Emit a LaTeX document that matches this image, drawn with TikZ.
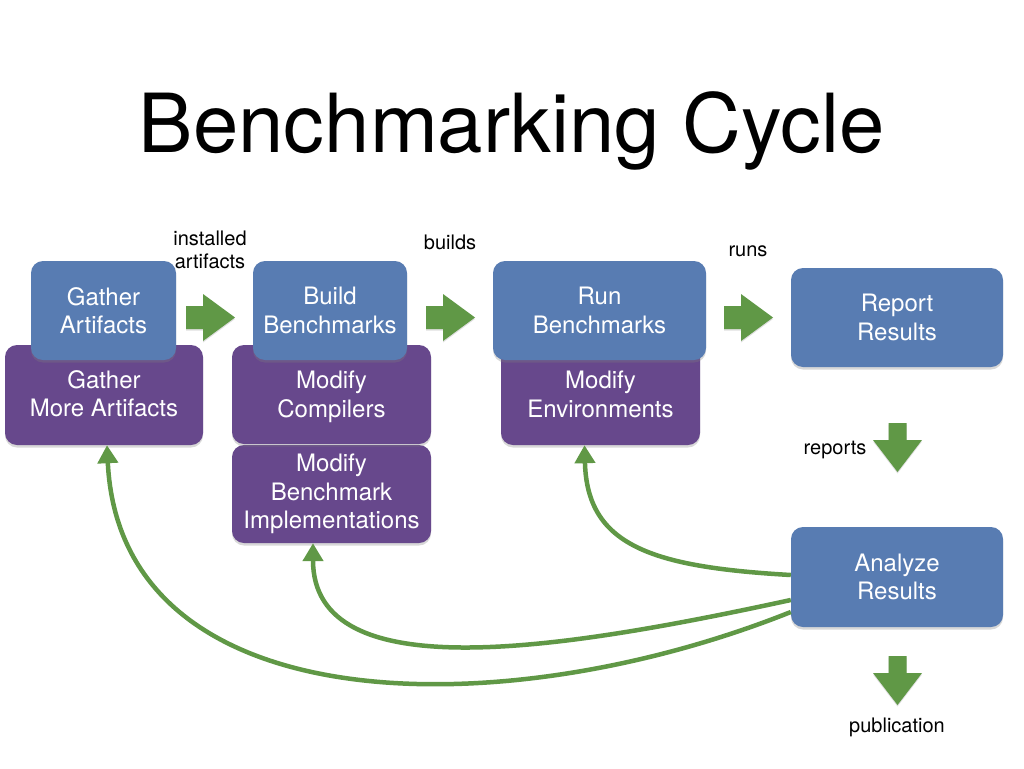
\documentclass[tikz,border=0pt]{standalone}
\usepackage{fontspec}
\setmainfont{TeX Gyre Heros}
\usetikzlibrary{shadows,arrows.meta}
\definecolor{boxblue}{RGB}{88,124,178}
\definecolor{boxpurple}{RGB}{103,72,140}
\definecolor{arrgreen}{RGB}{96,152,70}
\tikzset{
  boxbase/.style={rounded corners=12pt, inner sep=0pt, text=white, align=center,
    font=\fontsize{24}{28.5}\selectfont,
    drop shadow={shadow xshift=0pt,shadow yshift=-2.5pt,opacity=0.3}},
  bluebox/.style={boxbase, fill=boxblue},
  purplebox/.style={boxbase, fill=boxpurple},
  boxtext/.style={text=white, align=center, font=\fontsize{24}{28.5}\selectfont, inner sep=0pt},
  lbl/.style={font=\fontsize{20}{23}\selectfont, align=center, inner sep=0pt},
  feedback/.style={draw=arrgreen, line width=4.5pt, -{Triangle[width=20pt,length=18pt]}},
  blockarrow/.style={fill=arrgreen, drop shadow={shadow xshift=0pt,shadow yshift=-1.5pt,opacity=0.25}},
  rarr/.pic={\path[blockarrow] (-49,-11.5) -- (-32,-11.5) -- (-32,-23.5) -- (0,0) -- (-32,23.5) -- (-32,11.5) -- (-49,11.5) -- cycle;},
  darr/.pic={\path[blockarrow] (-9,-49) -- (-9,-32) -- (-24.5,-32) -- (0,0) -- (24.5,-32) -- (9,-32) -- (9,-49) -- cycle;}
}
\begin{document}
\begin{tikzpicture}[x=1pt,y=-1pt]
\fill[white] (0,0) rectangle (1024,768);
\useasboundingbox (0,0) rectangle (1024,768);

% title
\node[font=\fontsize{81.5}{90}\selectfont, anchor=base, inner sep=0pt] (title) at (512,152) {Benchmarking Cycle};

% purple boxes (below)
\node[purplebox, minimum width=198pt, minimum height=100pt] (gma) at (104,395) {};
\node[boxtext] (gmat) at (104,393.5) {Gather\\More Artifacts};
\node[purplebox, minimum width=199pt, minimum height=98pt] (mbi) at (331.5,494) {Modify\\Benchmark\\Implementations};
\node[purplebox, minimum width=199pt, minimum height=99pt] (mc) at (331.5,394.5) {};
\node[boxtext] (mct) at (331.5,397) {Modify\\Compilers};
\node[purplebox, minimum width=199pt, minimum height=100pt] (me) at (600.5,395) {};
\node[boxtext] (met) at (600.5,394.5) {Modify\\Environments};

% blue boxes (on top)
\node[bluebox, minimum width=145pt, minimum height=99pt] (ga) at (103.5,310.5) {Gather\\Artifacts};
\node[bluebox, minimum width=154pt, minimum height=99pt] (bb) at (330,310.5) {Build\\Benchmarks};
\node[bluebox, minimum width=213pt, minimum height=99pt] (rb) at (599.5,310.5) {Run\\Benchmarks};
\node[bluebox, minimum width=212pt, minimum height=99pt] (rr) at (897,317.5) {Report\\Results};
\node[bluebox, minimum width=212pt, minimum height=100pt] (ar) at (897,577) {Analyze\\Results};

% block arrows
\pic at (235,317.5) {rarr};
\pic at (475,317.5) {rarr};
\pic at (773,317.5) {rarr};
\pic at (897.5,472) {darr};
\pic at (897.5,705) {darr};

% labels
\node[lbl] (l1) at (210,249.5) {installed\\artifacts};
\node[lbl, anchor=base] (l2) at (450,249) {builds};
\node[lbl, anchor=base] (l3) at (748,256) {runs};
\node[lbl, anchor=base] (l4) at (835,454) {reports};
\node[lbl, anchor=base] (l5) at (897,732) {publication};

% feedback curves
\draw[feedback] ([yshift=2pt]ar.west) .. controls (650,567) and (587,545) .. ([xshift=-16pt]me.south);
\draw[feedback] ([yshift=-23pt]ar.west) .. controls (560,650) and (313,690) .. ([xshift=-18.5pt]mbi.south);
\draw[feedback] ([yshift=-35pt]ar.west) .. controls (500,728) and (120,722) .. ([xshift=3pt]gma.south);
\end{tikzpicture}
\end{document}
